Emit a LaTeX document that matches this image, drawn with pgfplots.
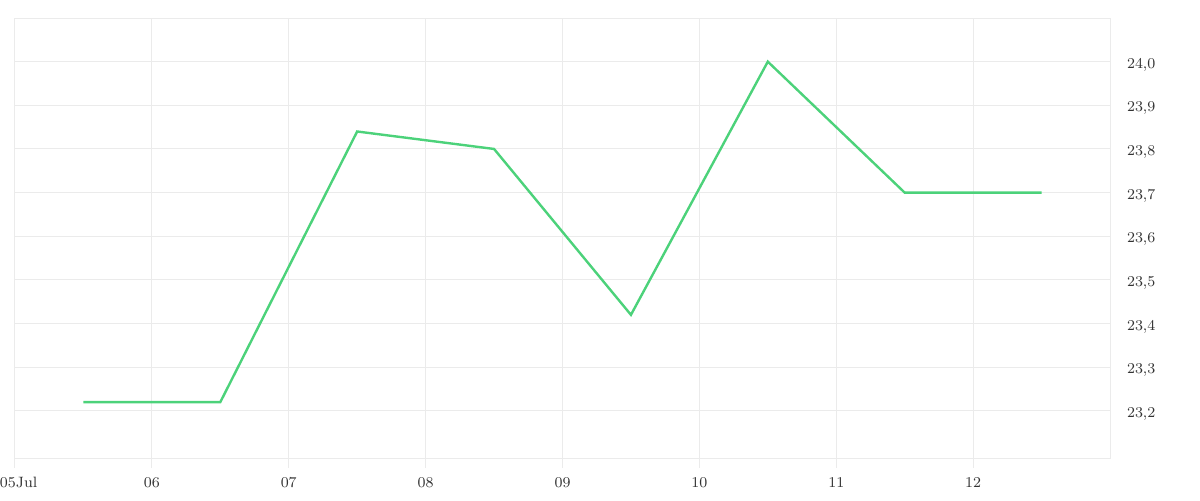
\documentclass[border=0pt]{standalone}
\usepackage{pgfplots}
\pgfplotsset{compat=1.18}
\definecolor{linegreen}{HTML}{4CD27A}
\definecolor{gridgray}{HTML}{EBEBEB}
\definecolor{labelgray}{HTML}{333333}
\begin{document}
\begin{tikzpicture}
\useasboundingbox (-7.5pt,-21pt) rectangle (592.5pt,229pt);
\begin{axis}[
    at={(0,0)}, anchor=south west,
    scale only axis,
    width=547.5pt, height=220pt,
    xmin=5, xmax=13,
    ymin=23.092, ymax=24.1,
    xtick={5,6,7,8,9,10,11,12},
    xticklabels={\hbox to 15pt{05Jul\hss},06,07,08,09,10,11,12},
    ytick={23.2,23.3,23.4,23.5,23.6,23.7,23.8,23.9,24.0},
    yticklabel pos=right,
    yticklabel style={anchor=west, xshift=0pt, yshift=-1.5pt},
    y tick label style={/pgf/number format/.cd, fixed, fixed zerofill, precision=1, use comma},
    /pgf/number format/assume math mode=true,
    tick label style={font=\fontsize{7.5}{9}\selectfont, text=labelgray},
    xticklabel style={yshift=-1pt},
    grid=major,
    major grid style={gridgray, line width=0.5pt},
    axis line style={gridgray, line width=0.5pt},
    xtick style={gridgray, line width=0.5pt},
    ytick style={draw=none},
    tick align=outside,
    major tick length=5pt,
    xtick pos=bottom,
]
\addplot[linegreen, line width=1.2pt, mark=none] coordinates {
(5.5,23.22) (6.5,23.22) (7.5,23.84) (8.5,23.80) (9.5,23.42) (10.5,24.0) (11.5,23.70) (12.5,23.70)
};
\end{axis}
\end{tikzpicture}
\end{document}
